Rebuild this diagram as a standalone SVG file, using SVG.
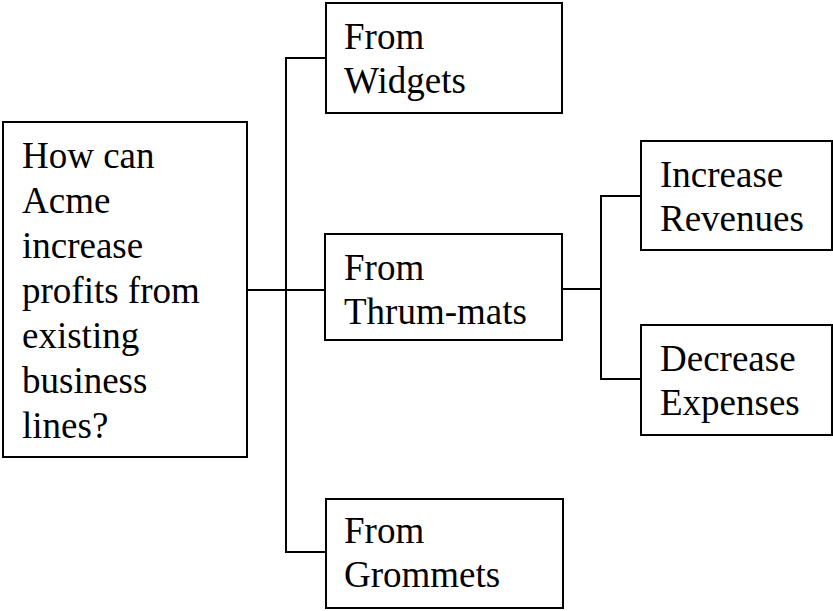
<svg xmlns="http://www.w3.org/2000/svg" width="833" height="611" viewBox="0 0 833 611">
<style>
.box{fill:#fff;stroke:#000;stroke-width:2}
.t{font-family:"Liberation Serif","Times New Roman",serif;font-size:37px;fill:#000}
.c{fill:none;stroke:#000;stroke-width:2}
</style>
<rect width="833" height="611" fill="#fff"/>
<g id="connectors">
<path class="c" d="M247 290 H325"/>
<path class="c" d="M326 58 H286 V552 H326"/>
<path class="c" d="M562 289 H601"/>
<path class="c" d="M641 196 H601 V379 H641"/>
</g>
<g id="root">
<rect class="box" x="3" y="122" width="244" height="335"/>
<text class="t" x="22" y="168">How can</text>
<text class="t" x="22" y="213">Acme</text>
<text class="t" x="22" y="258">increase</text>
<text class="t" x="22" y="303">profits from</text>
<text class="t" x="22" y="348">existing</text>
<text class="t" x="22" y="393">business</text>
<text class="t" x="22" y="438">lines?</text>
</g>
<g id="widgets">
<rect class="box" x="326" y="3" width="236" height="110"/>
<text class="t" x="344" y="49">From</text>
<text class="t" x="344" y="93">Widgets</text>
</g>
<g id="thrummats">
<rect class="box" x="325" y="234" width="237" height="106"/>
<text class="t" x="344" y="280">From</text>
<text class="t" x="344" y="324">Thrum-mats</text>
</g>
<g id="grommets">
<rect class="box" x="326" y="499" width="237" height="109"/>
<text class="t" x="344" y="543">From</text>
<text class="t" x="344" y="587">Grommets</text>
</g>
<g id="revenues">
<rect class="box" x="641" y="141" width="191" height="109"/>
<text class="t" x="660" y="187">Increase</text>
<text class="t" x="660" y="231">Revenues</text>
</g>
<g id="expenses">
<rect class="box" x="641" y="325" width="191" height="110"/>
<text class="t" x="660" y="371">Decrease</text>
<text class="t" x="660" y="415">Expenses</text>
</g>
</svg>
